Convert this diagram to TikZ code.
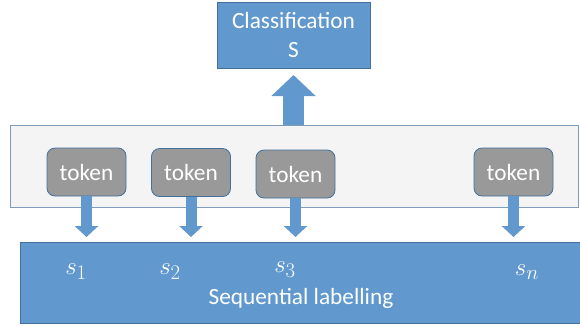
\documentclass[tikz,border=0pt]{standalone}
\usepackage{fontspec}
\setmainfont{Carlito}
\usetikzlibrary{arrows.meta}
\definecolor{boxblue}{HTML}{6199CE}
\definecolor{edgeblue}{HTML}{41719C}
\definecolor{panelgray}{HTML}{F4F4F5}
\definecolor{paneledge}{HTML}{7F9DB9}
\definecolor{tokengray}{HTML}{999999}
\tikzset{
  bluebox/.style={draw=edgeblue, line width=0.8pt, fill=boxblue, text=white, inner sep=0pt},
  panel/.style={draw=paneledge, line width=0.8pt, fill=panelgray, inner sep=0pt},
  tokenbox/.style={draw=edgeblue, line width=0.8pt, fill=tokengray, rounded corners=8pt,
    text=white, minimum width=79pt, minimum height=48pt, inner sep=0pt},
  txt/.style={font=\fontsize{23.3}{29.5}\selectfont},
  downarrow/.style={draw=boxblue, line width=11pt,
    -{Triangle[width=23pt,length=11pt]}},
  uparrow/.style={draw=boxblue, line width=21pt,
    -{Triangle[width=43pt,length=21pt]}},
  lbl/.style={text=white, inner sep=0pt, font=\fontsize{23.3}{27}\selectfont},
  mathlbl/.style={text=white, inner sep=0pt, font=\fontsize{29}{30}\selectfont}
}
\begin{document}
\begin{tikzpicture}[x=1pt,y=-1pt]
  \useasboundingbox (0,0) rectangle (580,325);

  % output boxes
  \node[bluebox, txt, align=center, minimum width=153pt, minimum height=66pt]
    (cls) at (293.5,35) {Classification\\S};
  \node[bluebox, minimum width=560pt, minimum height=81pt] (seq) at (300,282.5) {};

  % token panel
  \node[panel, minimum width=568pt, minimum height=82pt] (panel) at (294,166) {};

  \node[tokenbox, txt] (t1) at (86.5,172) {token};
  \node[tokenbox, txt] (t2) at (191,172.5) {token};
  \node[tokenbox, txt] (t3) at (295.5,174) {token};
  \node[tokenbox, txt] (t4) at (513.5,172) {token};

  % arrow end points
  \coordinate (tipline) at (0,237);
  \coordinate (uptip) at (293.5,75);

  \draw[uparrow] (panel.north -| uptip) -- (uptip);
  \draw[downarrow] (t1.south) -- (t1.south |- tipline);
  \draw[downarrow] (t2.south) -- (t2.south |- tipline);
  \draw[downarrow] (t3.south) -- (t3.south |- tipline);
  \draw[downarrow] (t4.south) -- (t4.south |- tipline);

  % labels of the sequence
  \node[mathlbl] (s1) at (76,272) {$s_1$};
  \node[mathlbl] (s2) at (170,272) {$s_2$};
  \node[mathlbl] (s3) at (285,270) {$s_3$};
  \node[mathlbl] (sn) at (527,272) {$s_n$};
  \node[lbl] (seqtxt) at (301,298) {Sequential labelling};
\end{tikzpicture}
\end{document}
